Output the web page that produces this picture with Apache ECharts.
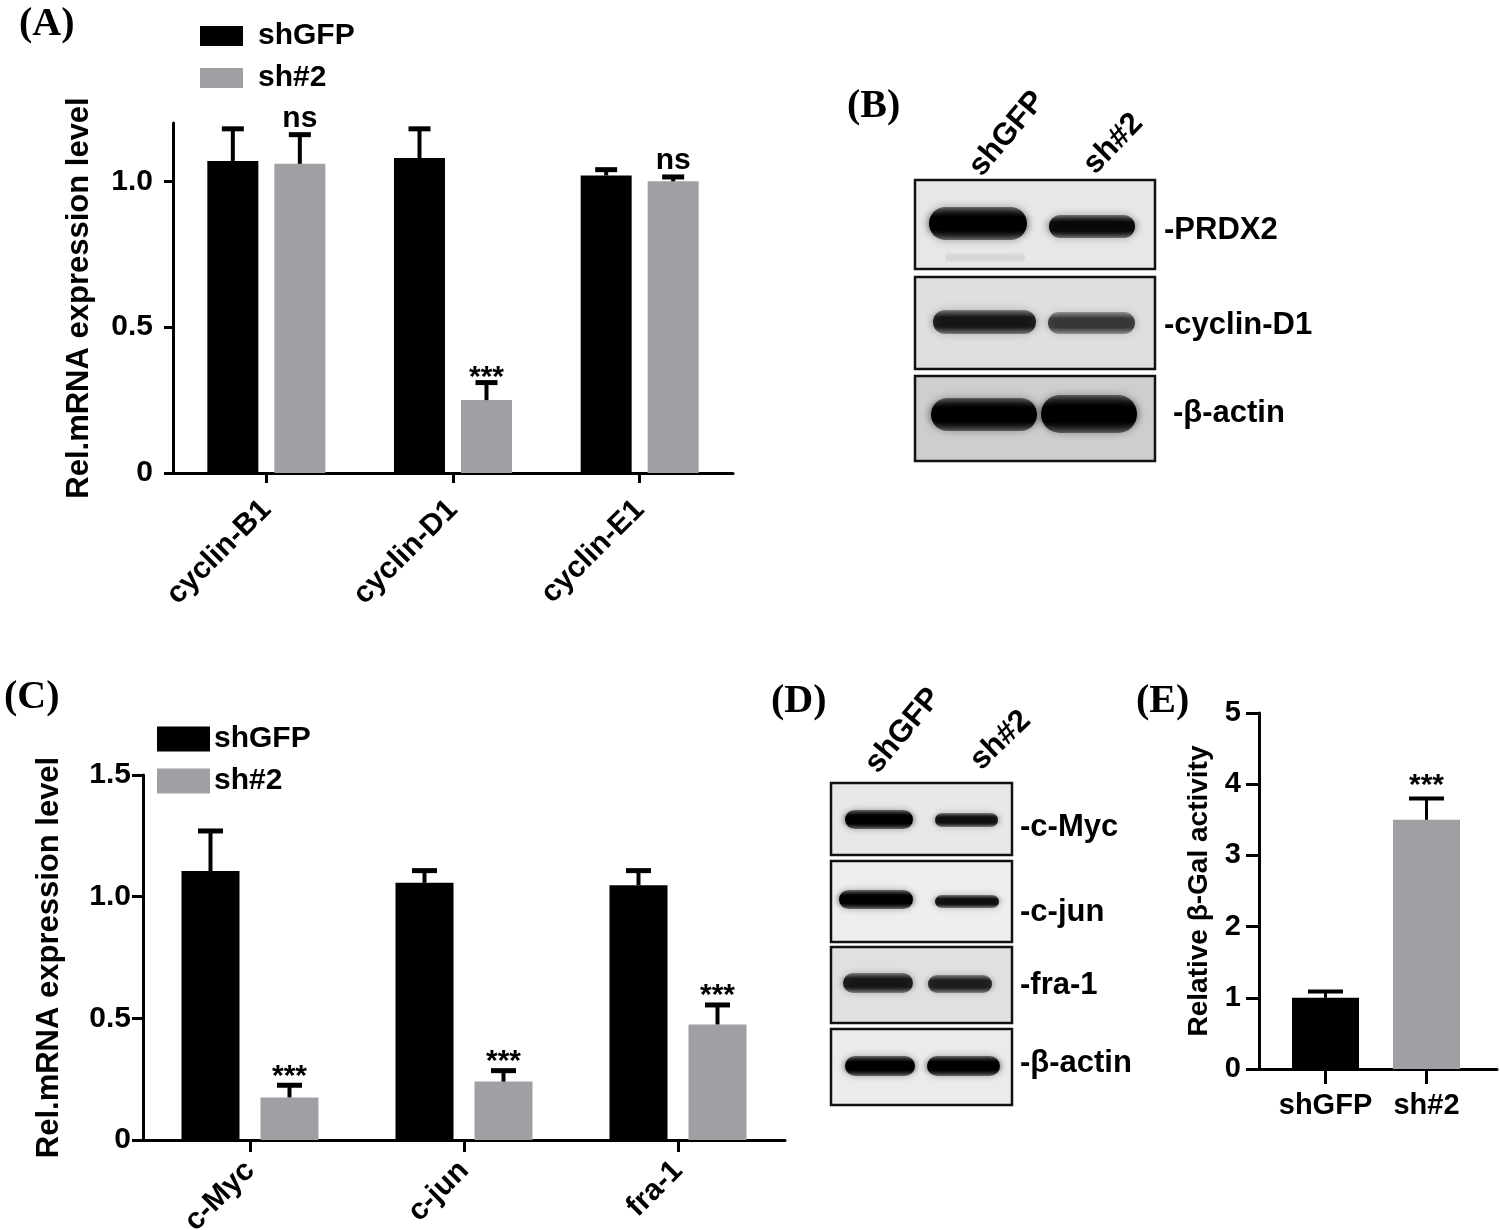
<!DOCTYPE html>
<html><head><meta charset="utf-8">
<script src="https://cdn.jsdelivr.net/npm/echarts@6/dist/echarts.min.js"></script>
<style>html,body{margin:0;padding:0;background:#fff}#c{width:1500px;height:1230px}</style>
</head><body><div id="c"></div>
<script>
// ---------------- DATA ----------------
// Panel A
const catA = ['cyclin-B1', 'cyclin-D1', 'cyclin-E1'];
const shGFP_A = [1.07, 1.08, 1.02];
const shGFP_A_err = [0.11, 0.10, 0.02];
const sh2_A = [1.06, 0.25, 1.00];
const sh2_A_err = [0.10, 0.06, 0.015];
const sigA = ['ns', '***', 'ns'];
const ticksA = [0, 0.5, 1.0];
// Panel C
const catC = ['c-Myc', 'c-jun', 'fra-1'];
const shGFP_C = [1.105, 1.057, 1.047];
const shGFP_C_err = [0.165, 0.05, 0.06];
const sh2_C = [0.175, 0.24, 0.475];
const sh2_C_err = [0.05, 0.045, 0.08];
const sigC = ['***', '***', '***'];
// Panel E
const catE = ['shGFP', 'sh#2'];
const galE = [1.0, 3.5];
const galE_err = [0.09, 0.3];
const sigE = ['', '***'];
// Blots (relative band darkness per lane: shGFP, sh#2)
const blotB_lanes = ['shGFP', 'sh#2'];
const blotB_proteins = ['-PRDX2', '-cyclin-D1', '-β-actin'];
const blotB_intensity = [[1.0, 0.92], [0.82, 0.66], [1.0, 1.0]];
const blotD_lanes = ['shGFP', 'sh#2'];
const blotD_proteins = ['-c-Myc', '-c-jun', '-fra-1', '-β-actin'];
const blotD_intensity = [[1.0, 0.88], [1.0, 0.88], [0.82, 0.78], [1.0, 1.0]];
const legendNames = ['shGFP', 'sh#2'];

// ---------------- STYLE / LAYOUT ----------------
const FONT = '"Liberation Sans", Arial, sans-serif';
const SERIF = '"Liberation Serif", "Times New Roman", serif';
const GRAY = '#a0a0a4';
const BLACK = '#000';

const LA = {left: 173, top: 123, width: 560, height: 350, barW: 51, gap: 16};
const LC = {left: 143, top: 775, width: 642, height: 365, barW: 58, gap: 21};
const LE = {left: 1275, top: 713, width: 202, height: 356, barW: 67, axisX: 1259, lineRight: 1497};

function fmt1(v) { return v === 0 ? '0' : v.toFixed(1); }

function errSeries(name, xi, means, errs, sigs, offset, capW, lw, sigSize, nsOff, starOff) {
  return {
    type: 'custom', name: name, xAxisIndex: xi, yAxisIndex: xi, z: 5, clip: false,
    data: means.map((m, i) => [i, m, m + errs[i]]),
    renderItem: function (params, api) {
      const i = api.value(0);
      const p0 = api.coord([i, api.value(1)]);
      const p1 = api.coord([i, api.value(2)]);
      const x = p0[0] + offset;
      const ch = [
        {type: 'line', shape: {x1: x, y1: p0[1], x2: x, y2: p1[1]}, style: {stroke: BLACK, lineWidth: lw}},
        {type: 'line', shape: {x1: x - capW / 2, y1: p1[1], x2: x + capW / 2, y2: p1[1]}, style: {stroke: BLACK, lineWidth: lw + 1}}
      ];
      const s = sigs ? sigs[params.dataIndex] : '';
      if (s) {
        ch.push({type: 'text', style: {text: s, x: x, y: p1[1] - (s === 'ns' ? nsOff : starOff),
          align: 'center', verticalAlign: 'middle', fill: BLACK, font: 'bold ' + sigSize + 'px ' + FONT}});
      }
      return {type: 'group', children: ch};
    }
  };
}

function axisLineStyle(w) { return {show: true, lineStyle: {color: BLACK, width: w}}; }
function tickStyle(len, w, extra) { return Object.assign({show: true, length: len, lineStyle: {color: BLACK, width: w}}, extra || {}); }
function lbl(size, extra) { return Object.assign({color: BLACK, fontSize: size, fontWeight: 'bold', fontFamily: FONT}, extra || {}); }

const offA = (LA.barW + LA.gap) / 2;
const offC = (LC.barW + LC.gap) / 2;

// ---------------- BLOTS (graphic) ----------------
const graphics = [];
function panelLabel(t, x, y) {
  graphics.push({type: 'text', x: x, y: y, style: {text: t, font: 'bold 40px ' + SERIF, fill: BLACK, align: 'left', verticalAlign: 'middle'}});
}
panelLabel('(A)', 19, 25);
panelLabel('(B)', 847, 107);
panelLabel('(C)', 4, 698);
panelLabel('(D)', 771, 702);
panelLabel('(E)', 1136, 702);

function band(x, y, w, h, a, blur) {
  const edge = 'rgba(0,0,0,' + (a * 0.45).toFixed(3) + ')';
  const core = 'rgba(0,0,0,' + a + ')';
  graphics.push({type: 'rect', shape: {x: x, y: y, width: w, height: h, r: h / 2},
    style: {fill: {type: 'linear', x: 0, y: 0, x2: 0, y2: 1,
      colorStops: [{offset: 0, color: edge}, {offset: 0.3, color: core}, {offset: 0.7, color: core}, {offset: 1, color: edge}]},
      shadowBlur: blur, shadowColor: 'rgba(0,0,0,' + (a * 0.7).toFixed(3) + ')'}});
}
function blotBox(x, y, w, h, bg) {
  graphics.push({type: 'rect', shape: {x: x, y: y, width: w, height: h}, style: {fill: bg, stroke: '#111', lineWidth: 2.5}});
}
function blotText(t, x, y, size) {
  graphics.push({type: 'text', x: x, y: y, style: {text: t, font: 'bold ' + size + 'px ' + FONT, fill: BLACK, align: 'left', verticalAlign: 'middle'}});
}
function headerText(t, x, y, deg) {
  graphics.push({type: 'text', x: x, y: y, rotation: deg * Math.PI / 180,
    style: {text: t, font: 'bold 31px ' + FONT, fill: BLACK, align: 'left', verticalAlign: 'bottom'}});
}

// Blot B layout
const B_box = {x: 915, w: 240, rows: [[180, 89], [277, 92], [376, 85]], bg: ['#e7e7e7', '#dfdfdf', '#cecece']};
const B_bands = [
  [[929, 207, 98, 33], [1049, 215, 86, 23]],
  [[933, 310, 103, 24], [1048, 312, 87, 22]],
  [[931, 398, 106, 33], [1041, 395, 96, 38]]
];
const B_labelPos = [[1164, 230], [1164, 325], [1173, 413]];
B_box.rows.forEach((r, i) => {
  blotBox(B_box.x, r[0], B_box.w, r[1], B_box.bg[i]);
  B_bands[i].forEach((b, j) => {
    band(b[0], b[1], b[2], b[3], blotB_intensity[i][j], 9);
  });
  blotText(blotB_proteins[i], B_labelPos[i][0], B_labelPos[i][1], 31);
});
band(945, 253, 80, 9, 0.07, 8);
headerText(blotB_lanes[0], 987, 182, 50);
headerText(blotB_lanes[1], 1100, 180, 46);

// Blot D layout
const D_box = {x: 831, w: 181, rows: [[783, 72], [861, 81], [947, 76], [1029, 76]], bg: ['#e8e8e8', '#eeeeee', '#e0e0e0', '#ebebeb']};
const D_bands = [
  [[845, 810, 68, 19], [935, 813, 63, 14]],
  [[839, 890, 74, 19], [935, 895, 64, 13]],
  [[843, 973, 70, 20], [928, 975, 64, 18]],
  [[845, 1056, 70, 20], [927, 1056, 73, 20]]
];
const D_labelPos = [[1020, 827], [1020, 912], [1020, 985], [1020, 1063]];
D_box.rows.forEach((r, i) => {
  blotBox(D_box.x, r[0], D_box.w, r[1], D_box.bg[i]);
  D_bands[i].forEach((b, j) => {
    band(b[0], b[1], b[2], b[3], blotD_intensity[i][j], 7);
  });
  blotText(blotD_proteins[i], D_labelPos[i][0], D_labelPos[i][1], 31);
});
headerText(blotD_lanes[0], 883, 779, 50);
headerText(blotD_lanes[1], 986, 776, 44);

// ---------------- OPTION ----------------
const option = {
  animation: false,
  backgroundColor: '#fff',
  textStyle: {fontFamily: FONT},
  grid: [
    {left: LA.left, top: LA.top, width: LA.width, height: LA.height, outerBoundsMode: 'none', containLabel: false},
    {left: LC.left, top: LC.top, width: LC.width, height: LC.height, outerBoundsMode: 'none', containLabel: false},
    {left: LE.left, top: LE.top, width: LE.width, height: LE.height, outerBoundsMode: 'none', containLabel: false},
    {left: LE.axisX, top: LE.top, width: LE.lineRight - LE.axisX, height: LE.height, outerBoundsMode: 'none', containLabel: false}
  ],
  legend: [
    {data: legendNames, left: 200, top: 21, orient: 'vertical', padding: 0, itemWidth: 43, itemHeight: 20, itemGap: 12,
      icon: 'rect', selectedMode: false, textStyle: lbl(30, {lineHeight: 30, padding: [0, 0, 0, 10]})},
    {data: legendNames, left: 157, top: 724, orient: 'vertical', padding: 0, itemWidth: 53, itemHeight: 25, itemGap: 12,
      icon: 'rect', selectedMode: false, textStyle: lbl(30, {lineHeight: 30, padding: [0, 0, 0, -1]})}
  ],
  xAxis: [
    {gridIndex: 0, type: 'category', data: catA, axisLine: axisLineStyle(3),
      axisTick: tickStyle(10, 3, {alignWithLabel: true}),
      axisLabel: lbl(30, {rotate: 45, margin: 32, interval: 0})},
    {gridIndex: 1, type: 'category', data: catC, axisLine: axisLineStyle(3),
      axisTick: tickStyle(12, 3, {alignWithLabel: true}),
      axisLabel: lbl(30, {rotate: 45, margin: 26, interval: 0})},
    {gridIndex: 2, type: 'category', data: catE, axisLine: axisLineStyle(3),
      axisTick: tickStyle(15, 3, {alignWithLabel: true}),
      axisLabel: lbl(29, {margin: 22, interval: 0})},
    {gridIndex: 3, type: 'value', min: 0, max: 1, axisLine: axisLineStyle(3), axisTick: {show: false},
      axisLabel: {show: false}, splitLine: {show: false}}
  ],
  yAxis: [
    {gridIndex: 0, type: 'value', min: 0, max: 1.2, interval: 0.5, splitLine: {show: false},
      axisLine: axisLineStyle(3), axisTick: tickStyle(9, 3, {customValues: ticksA}),
      axisLabel: lbl(30, {customValues: ticksA, formatter: fmt1, margin: 20}),
      name: 'Rel.mRNA expression level', nameLocation: 'middle', nameGap: 78, nameRotate: 90,
      nameTextStyle: lbl(31)},
    {gridIndex: 1, type: 'value', min: 0, max: 1.5, interval: 0.5, splitLine: {show: false},
      axisLine: axisLineStyle(3), axisTick: tickStyle(11, 3),
      axisLabel: lbl(30, {formatter: fmt1, margin: 12}),
      name: 'Rel.mRNA expression level', nameLocation: 'middle', nameGap: 78, nameRotate: 90,
      nameTextStyle: lbl(31)},
    {gridIndex: 2, type: 'value', min: 0, max: 5, interval: 1, offset: LE.left - LE.axisX, splitLine: {show: false},
      axisLine: axisLineStyle(3), axisTick: tickStyle(13, 3),
      axisLabel: lbl(29, {margin: 18}),
      name: 'Relative β-Gal activity', nameLocation: 'middle', nameGap: 46, nameRotate: 90,
      nameTextStyle: lbl(28)},
    {gridIndex: 3, type: 'value', show: false, min: 0, max: 1}
  ],
  series: [
    {type: 'bar', name: 'shGFP', xAxisIndex: 0, yAxisIndex: 0, data: shGFP_A, barWidth: LA.barW,
      barGap: (LA.gap / LA.barW * 100) + '%', itemStyle: {color: BLACK}},
    {type: 'bar', name: 'sh#2', xAxisIndex: 0, yAxisIndex: 0, data: sh2_A, barWidth: LA.barW,
      barGap: (LA.gap / LA.barW * 100) + '%', itemStyle: {color: GRAY}},
    errSeries('errA1', 0, shGFP_A, shGFP_A_err, null, -offA, 22, 4, 30, 16, 5),
    errSeries('errA2', 0, sh2_A, sh2_A_err, sigA, offA, 22, 4, 30, 16, 5),

    {type: 'bar', name: 'shGFP', xAxisIndex: 1, yAxisIndex: 1, data: shGFP_C, barWidth: LC.barW,
      barGap: (LC.gap / LC.barW * 100) + '%', itemStyle: {color: BLACK}},
    {type: 'bar', name: 'sh#2', xAxisIndex: 1, yAxisIndex: 1, data: sh2_C, barWidth: LC.barW,
      barGap: (LC.gap / LC.barW * 100) + '%', itemStyle: {color: GRAY}},
    errSeries('errC1', 1, shGFP_C, shGFP_C_err, null, -offC, 25, 4, 30, 18, 9),
    errSeries('errC2', 1, sh2_C, sh2_C_err, sigC, offC, 25, 4, 30, 18, 9),

    {type: 'bar', name: 'β-Gal', xAxisIndex: 2, yAxisIndex: 2, barWidth: LE.barW,
      data: galE.map((v, i) => ({value: v, itemStyle: {color: i === 0 ? BLACK : GRAY}}))},
    errSeries('errE', 2, galE, galE_err, sigE, 0, 35, 3, 30, 18, 13)
  ],
  graphic: {elements: graphics}
};

const chart = echarts.init(document.getElementById('c'), null, {renderer: 'canvas', width: 1500, height: 1230});
chart.setOption(option);
</script>
</body></html>
